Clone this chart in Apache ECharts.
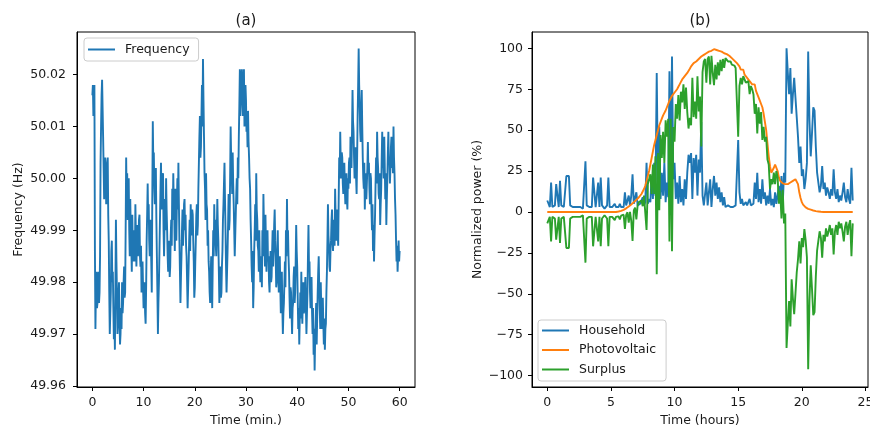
<!DOCTYPE html>
<html><head><meta charset="utf-8">
<script src="https://cdn.jsdelivr.net/npm/echarts@6/dist/echarts.min.js"></script>
<style>html,body{margin:0;padding:0;background:#fff}#c{width:870px;height:426px}</style>
</head><body><div id="c"></div>
<script>
// ---------- DATA ----------
const panelTitles = ['(a)', '(b)'];

// (a) grid frequency (Hz), one reading every 0.1 min from 0 to 60 min
const freqStepMin = 0.1;
const frequencyHz = [
  50.016, 50.018, 50.012, 50.015, 50.018, 49.986, 49.971, 49.979, 49.982, 49.975, 49.976, 49.981, 49.982, 49.976, 49.978, 49.985, 50.003, 50.010, 50.016, 50.019,
  50.019, 50.008, 50.002, 49.996, 49.998, 50.004, 50.003, 49.995, 49.997, 50.001, 50.004, 49.993, 49.988, 49.978, 49.970, 49.974, 49.978, 49.986, 49.988, 49.980,
  49.982, 49.975, 49.969, 49.973, 49.967, 49.979, 49.992, 49.984, 49.978, 49.970, 49.972, 49.977, 49.980, 49.973, 49.968, 49.970, 49.975, 49.971, 49.980, 49.974,
  49.976, 49.980, 49.983, 49.977, 49.978, 49.990, 50.004, 49.996, 50.001, 49.992, 49.995, 50.000, 49.990, 49.985, 49.996, 49.990, 49.987, 49.982, 49.993, 49.986,
  49.984, 49.988, 49.990, 49.984, 49.995, 49.989, 49.983, 49.988, 49.991, 49.985, 49.987, 49.992, 49.993, 49.985, 49.983, 49.987, 49.978, 49.982, 49.984, 49.979,
  49.975, 49.978, 49.980, 49.974, 49.972, 49.979, 49.988, 49.993, 49.999, 49.992, 49.995, 49.988, 49.985, 49.992, 49.990, 49.984, 49.978, 49.996, 50.011, 50.003,
  50.005, 49.998, 49.995, 50.000, 50.002, 49.992, 49.985, 49.978, 49.970, 49.976, 49.980, 49.986, 49.992, 49.998, 50.003, 49.996, 49.994, 49.999, 50.001, 49.990,
  49.985, 49.991, 49.996, 49.990, 50.000, 49.994, 49.990, 49.985, 49.982, 49.987, 49.988, 49.981, 49.983, 49.989, 49.992, 49.987, 49.998, 49.992, 50.001, 49.995,
  49.992, 49.986, 49.998, 49.993, 49.988, 49.995, 50.000, 49.994, 50.003, 49.995, 49.988, 49.982, 49.976, 49.981, 49.985, 49.990, 49.994, 49.987, 49.990, 49.995,
  49.996, 49.990, 49.993, 49.987, 49.985, 49.980, 49.975, 49.979, 49.983, 49.988, 49.992, 49.986, 49.995, 49.990, 49.989, 49.994, 49.993, 49.988, 49.984, 49.977,
  49.979, 49.984, 49.988, 49.993, 49.995, 49.989, 49.991, 49.998, 50.003, 50.008, 50.012, 50.004, 50.006, 50.012, 50.018, 50.010, 50.023, 50.015, 50.008, 50.001,
  49.998, 49.992, 50.001, 49.995, 49.994, 49.987, 49.990, 49.984, 49.982, 49.978, 49.976, 49.981, 49.985, 49.980, 49.975, 49.983, 49.990, 49.985, 49.995, 49.989,
  49.992, 49.987, 49.985, 49.990, 49.996, 49.991, 49.988, 49.982, 49.976, 49.980, 49.983, 49.977, 49.978, 49.983, 49.986, 49.992, 49.995, 49.999, 50.003, 49.996,
  49.990, 49.983, 49.978, 49.982, 49.986, 49.991, 49.997, 49.990, 49.992, 50.000, 50.010, 50.004, 50.002, 49.997, 50.005, 49.999, 49.995, 49.990, 49.985, 49.989,
  49.993, 49.997, 50.000, 49.995, 50.004, 50.000, 50.008, 50.014, 50.021, 50.012, 50.016, 50.019, 50.021, 50.015, 50.012, 50.017, 50.021, 50.010, 50.014, 50.018,
  50.015, 50.009, 50.011, 50.006, 50.013, 50.007, 50.004, 50.000, 49.998, 49.992, 49.988, 49.983, 49.980, 49.986, 49.975, 49.979, 49.986, 49.990, 49.995, 49.988,
  50.001, 49.994, 49.992, 49.987, 49.986, 49.982, 49.990, 49.984, 49.980, 49.984, 49.985, 49.979, 49.990, 49.985, 49.997, 49.991, 49.988, 49.983, 49.993, 49.987,
  49.982, 49.987, 49.990, 49.984, 49.985, 49.980, 49.978, 49.983, 49.986, 49.980, 49.981, 49.986, 49.990, 49.983, 49.986, 49.991, 49.994, 49.988, 49.985, 49.979,
  49.980, 49.985, 49.990, 49.983, 49.978, 49.982, 49.985, 49.979, 49.974, 49.978, 49.982, 49.975, 49.970, 49.974, 49.976, 49.980, 49.984, 49.979, 49.990, 49.985,
  49.996, 49.988, 49.990, 49.985, 49.982, 49.977, 49.973, 49.979, 49.978, 49.974, 49.970, 49.975, 49.976, 49.981, 49.983, 49.976, 49.978, 49.984, 49.991, 49.986,
  49.983, 49.977, 49.971, 49.975, 49.968, 49.973, 49.978, 49.973, 49.982, 49.976, 49.972, 49.977, 49.980, 49.974, 49.975, 49.979, 49.981, 49.975, 49.970, 49.974,
  49.978, 49.985, 49.991, 49.983, 49.984, 49.978, 49.975, 49.980, 49.981, 49.974, 49.970, 49.975, 49.966, 49.971, 49.963, 49.969, 49.972, 49.976, 49.968, 49.973,
  49.978, 49.982, 49.985, 49.979, 49.975, 49.971, 49.980, 49.975, 49.971, 49.976, 49.977, 49.972, 49.968, 49.973, 49.967, 49.971, 49.972, 49.978, 49.982, 49.988,
  49.995, 49.989, 49.987, 49.983, 49.982, 49.986, 49.988, 49.992, 49.994, 49.988, 49.986, 49.991, 49.992, 49.987, 49.998, 49.993, 49.988, 49.992, 49.994, 49.990,
  49.987, 49.996, 50.004, 50.000, 50.009, 50.003, 50.000, 50.005, 50.004, 49.999, 49.997, 50.002, 50.003, 49.998, 49.995, 49.999, 50.001, 49.996, 49.994, 50.000,
  49.998, 50.003, 50.004, 49.999, 50.008, 50.003, 50.002, 50.009, 50.017, 50.011, 50.009, 50.004, 50.000, 50.005, 50.006, 50.000, 49.997, 50.004, 50.012, 50.018,
  50.025, 50.018, 50.014, 50.009, 50.007, 50.012, 50.017, 50.010, 50.004, 50.000, 49.998, 50.003, 49.994, 49.999, 50.001, 49.996, 49.996, 50.002, 50.007, 50.001,
  50.003, 49.998, 49.995, 50.001, 50.000, 49.994, 49.990, 49.995, 49.986, 49.991, 49.984, 49.989, 49.993, 49.999, 50.004, 49.999, 50.009, 50.004, 50.002, 49.997,
  49.996, 50.001, 49.991, 49.995, 49.998, 50.004, 50.009, 50.002, 50.004, 50.000, 50.008, 50.002, 49.996, 50.001, 49.991, 49.996, 50.000, 50.005, 50.009, 50.003,
  50.004, 49.999, 50.002, 50.006, 50.008, 50.002, 50.005, 50.001, 50.010, 50.004, 50.001, 49.996, 49.993, 49.988, 49.984, 49.987, 49.982, 49.985, 49.988, 49.984,
  49.986
];

// (b) normalized power (%), one reading every 0.1 h from 0 to 24 h
const powerStepHours = 0.1;
const household = [
  7, 5, 3, 18, 3, 3, 4, 17, 16, 3,
  19, 4, 3, 3, 3, 22, 23, 22, 4, 3,
  3, 2, 3, 4, 3, 2, 3, 3, 2, 3,
  31, 4, 3, 3, 2, 3, 21, 20, 3, 4,
  18, 3, 21, 4, 3, 2, 3, 4, 21, 3,
  4, 3, 3, 5, 3, 4, 3, 5, 3, 4,
  3, 12, 4, 3, 10, 4, 10, 23, 5, 4,
  12, 4, 3, 5, 4, 9, 4, 6, 30, 5,
  8, 6, 22, 8, 30, 10, 85, 14, 52, 8,
  24, 10, 30, 6, 18, 9, 86, 12, 95, 20,
  30, 8, 18, 5, 22, 6, 14, 4, 20, 8,
  24, 35, 30, 36, 8, 33, 24, 35, 10, 32,
  24, 55, 10, 4, 3, 18, 4, 3, 20, 3,
  14, 22, 10, 18, 8, 15, 6, 12, 4, 9,
  3, 3, 4, 3, 3, 4, 3, 3, 4, 3,
  44, 12, 5, 8, 4, 3, 6, 4, 3, 8,
  4, 3, 5, 18, 8, 24, 6, 14, 5, 20,
  8, 12, 4, 10, 5, 14, 4, 8, 3, 12,
  5, 4, 16, 6, 22, 4, 24, 18, 100, 85,
  72, 88, 60, 72, 82, 70, 58, 46, 30, 40,
  22, 26, 14, 20, 30, 98, 56, 34, 48, 64,
  62, 40, 24, 18, 12, 16, 28, 14, 18, 10,
  15, 12, 8, 14, 10, 26, 12, 8, 14, 6,
  10, 7, 12, 18, 9, 6, 14, 8, 5, 27,
  7
];
const photovoltaic = [
  0, 0, 0, 0, 0, 0, 0, 0, 0, 0,
  0, 0, 0, 0, 0, 0, 0, 0, 0, 0,
  0, 0, 0, 0, 0, 0, 0, 0, 0, 0,
  0, 0, 0, 0, 0, 0, 0, 0, 0, 0,
  0, 0, 0, 0, 0, 0, 0, 0, 0, 0,
  0, 0, 0, 0, 0, 0, 0.3, 0.5, 0.7, 1.0,
  1.3, 1.7, 2.2, 2.8, 3.4, 4.0, 4.6, 5.3, 6.0, 6.7,
  7.4, 8.2, 9.0, 9.8, 11, 12.5, 14, 16, 19, 22,
  25, 29, 33, 37, 41, 44, 47, 50, 53, 55,
  57, 59, 60, 62, 64, 66, 68, 69, 71, 72,
  73, 74, 75, 76.5, 78, 79.5, 81, 82, 83, 84,
  85, 86, 87.5, 89, 90, 91, 91.5, 92, 93, 93.5,
  94.5, 95, 95.5, 96, 96.5, 97, 97.5, 98, 98, 98.5,
  99, 99.5, 100, 99, 99.5, 98.5, 99, 98, 97.5, 97,
  97, 96.5, 96, 95.5, 95, 94, 93, 92.5, 92, 91,
  90, 89, 87, 86, 87, 84, 85, 82, 83, 80,
  81, 78, 77, 78, 74, 72, 70, 68, 66, 64,
  60, 55, 50, 42, 34, 28, 24, 25, 27, 29,
  30, 25, 21, 19, 18, 17.5, 17, 17, 16.8, 17,
  17.5, 18, 18.8, 19, 19.5, 20, 21, 17, 12, 8.5,
  6, 4.5, 3.5, 2.8, 2.3, 1.9, 1.6, 1.4, 1.1, 0.9,
  0.7, 0.5, 0.4, 0.3, 0.2, 0.1, 0, 0, 0, 0,
  0, 0, 0, 0, 0, 0, 0, 0, 0, 0,
  0, 0, 0, 0, 0, 0, 0, 0, 0, 0,
  0
];
const surplus = [
  -7, -5, -3, -18, -3, -3, -4, -17, -16, -3,
  -19, -4, -3, -3, -3, -22, -23, -22, -4, -3,
  -3, -2, -3, -4, -3, -2, -3, -3, -2, -3,
  -31, -4, -3, -3, -2, -3, -21, -20, -3, -4,
  -18, -3, -21, -4, -3, -2, -3, -4, -21, -3,
  -4, -3, -3, -5, -3, -4, -2.7, -4.5, -2.3, -3,
  -1.7, -10.3, -1.8, -0.2, -6.6, 0, -5.4, -17.7, 1, 2.7,
  -4.6, 4.2, 6, 4.8, 7, 3.5, 10, 10, -11, 17,
  17, 23, 11, 29, 11, 34, -38, 36, 1, 47,
  33, 49, 30, 56, 46, 57, -18, 57, -24, 52,
  43, 66, 57, 71.5, 56, 73.5, 67, 78, 63, 76,
  61, 51, 57.5, 53, 82, 58, 67.5, 57, 83, 61.5,
  70.5, 40, 85.5, 92, 93.5, 79, 93.5, 95, 78, 95.5,
  85, 77.5, 90, 81, 91.5, 83.5, 93, 86, 93.5, 88,
  94, 93.5, 92, 92.5, 92, 90, 90, 89.5, 88, 88,
  46, 77, 82, 78, 83, 81, 79, 78, 80, 72,
  77, 75, 72, 60, 66, 48, 64, 54, 61, 44,
  52, 43, 46, 32, 29, 14, 20, 17, 24, 17,
  25, 21, 5, 13, -4, 13.5, -7, -1, -83.2, -68,
  -54.5, -70, -41.2, -53, -62.5, -50, -37, -29, -18, -31.5,
  -16, -21.5, -10.5, -17.2, -27.7, -96.1, -54.4, -32.6, -46.9, -63.1,
  -61.3, -39.5, -23.6, -17.7, -11.8, -15.9, -28, -14, -18, -10,
  -15, -12, -8, -14, -10, -26, -12, -8, -14, -6,
  -10, -7, -12, -18, -9, -6, -14, -8, -5, -27,
  -7
];

// tick labels
const freqTimeTicks = [0, 10, 20, 30, 40, 50, 60];
const freqValueTicks = [49.96, 49.97, 49.98, 49.99, 50.00, 50.01, 50.02];
const powerTimeTicks = [0, 5, 10, 15, 20, 25];
const powerValueTicks = [-100, -75, -50, -25, 0, 25, 50, 75, 100];

// ---------- CHART ----------
const FONT = 'DejaVu Sans';
const FS = 12.5;
const INK = '#1a1a1a';
const BLUE = '#1f77b4', ORANGE = '#ff7f0e', GREEN = '#2ca02c';

const pairs = (arr, step) => arr.map((v, i) => [+(i * step).toFixed(3), v]);

function xAxisCfg(grid, min, max, ticks, name) {
  return {
    type: 'value', gridIndex: grid, min: min, max: max,
    name: name, nameLocation: 'middle', nameGap: 27,
    nameTextStyle: { fontFamily: FONT, fontSize: FS, color: INK },
    axisLine: { show: true, onZero: false, lineStyle: { color: '#000', width: 1 } },
    axisTick: { show: true, inside: false, length: 4, customValues: ticks, lineStyle: { color: '#000', width: 1 } },
    axisLabel: { customValues: ticks, margin: 9, fontFamily: FONT, fontSize: FS, color: INK },
    splitLine: { show: false }
  };
}
function yAxisCfg(grid, min, max, ticks, name, fmt, gap, margin) {
  return {
    type: 'value', gridIndex: grid, min: min, max: max,
    name: name, nameLocation: 'middle', nameGap: gap,
    nameTextStyle: { fontFamily: FONT, fontSize: FS, color: INK },
    axisLine: { show: true, onZero: false, lineStyle: { color: '#000', width: 1 } },
    axisTick: { show: true, inside: false, length: 4, customValues: ticks, lineStyle: { color: '#000', width: 1 } },
    axisLabel: { customValues: ticks, margin: margin, formatter: fmt, fontFamily: FONT, fontSize: FS, color: INK },
    splitLine: { show: false }
  };
}
function legendCfg(names, left, top, pad, gap) {
  return {
    data: names, orient: 'vertical', left: left, top: top,
    icon: 'rect', itemWidth: 27, itemHeight: 2, itemGap: gap,
    padding: pad, borderColor: '#cccccc', borderWidth: 1, borderRadius: 3,
    backgroundColor: 'rgba(255,255,255,0.8)',
    textStyle: { fontFamily: FONT, fontSize: FS, color: INK, padding: [0, 0, 0, 5] }
  };
}

const chart = echarts.init(document.getElementById('c'), null, { renderer: 'canvas' });
chart.setOption({
  animation: false,
  backgroundColor: '#ffffff',
  title: [
    { text: panelTitles[0], left: 246, top: 14, textAlign: 'center', padding: 0,
      textStyle: { fontFamily: FONT, fontSize: 15, fontWeight: 'normal', color: INK } },
    { text: panelTitles[1], left: 700, top: 14, textAlign: 'center', padding: 0,
      textStyle: { fontFamily: FONT, fontSize: 15, fontWeight: 'normal', color: INK } }
  ],
  grid: [
    { left: 77, top: 32, width: 338, height: 355, outerBoundsMode: 'none', containLabel: false,
      show: true, borderColor: '#000', borderWidth: 1, backgroundColor: 'transparent' },
    { left: 532, top: 32, width: 336, height: 355, outerBoundsMode: 'none', containLabel: false,
      show: true, borderColor: '#000', borderWidth: 1, backgroundColor: 'transparent' }
  ],
  xAxis: [
    xAxisCfg(0, -3, 63, freqTimeTicks, 'Time (min.)'),
    xAxisCfg(1, -1.2, 25.2, powerTimeTicks, 'Time (hours)')
  ],
  yAxis: [
    yAxisCfg(0, 49.9598, 50.0282, freqValueTicks, 'Frequency (Hz)', v => v.toFixed(2), 52, 11),
    yAxisCfg(1, -107, 110, powerValueTicks, 'Normalized power (%)', v => (v < 0 ? '\u2212' : '') + Math.abs(v), 48, 9)
  ],
  legend: [
    legendCfg(['Frequency'], 84, 38, [5, 9, 5, 4], 6),
    legendCfg(['Household', 'Photovoltaic', 'Surplus'], 538, 320, [4, 10, 5, 4], 6.5)
  ],
  series: [
    { name: 'Frequency', type: 'line', xAxisIndex: 0, yAxisIndex: 0, data: pairs(frequencyHz, freqStepMin),
      showSymbol: false, color: BLUE, lineStyle: { width: 1.9, color: BLUE } },
    { name: 'Household', type: 'line', xAxisIndex: 1, yAxisIndex: 1, data: pairs(household, powerStepHours),
      showSymbol: false, color: BLUE, lineStyle: { width: 1.9, color: BLUE } },
    { name: 'Photovoltaic', type: 'line', xAxisIndex: 1, yAxisIndex: 1, data: pairs(photovoltaic, powerStepHours),
      showSymbol: false, color: ORANGE, lineStyle: { width: 1.9, color: ORANGE } },
    { name: 'Surplus', type: 'line', xAxisIndex: 1, yAxisIndex: 1, data: pairs(surplus, powerStepHours),
      showSymbol: false, color: GREEN, lineStyle: { width: 1.9, color: GREEN } }
  ]
});
</script></body></html>
